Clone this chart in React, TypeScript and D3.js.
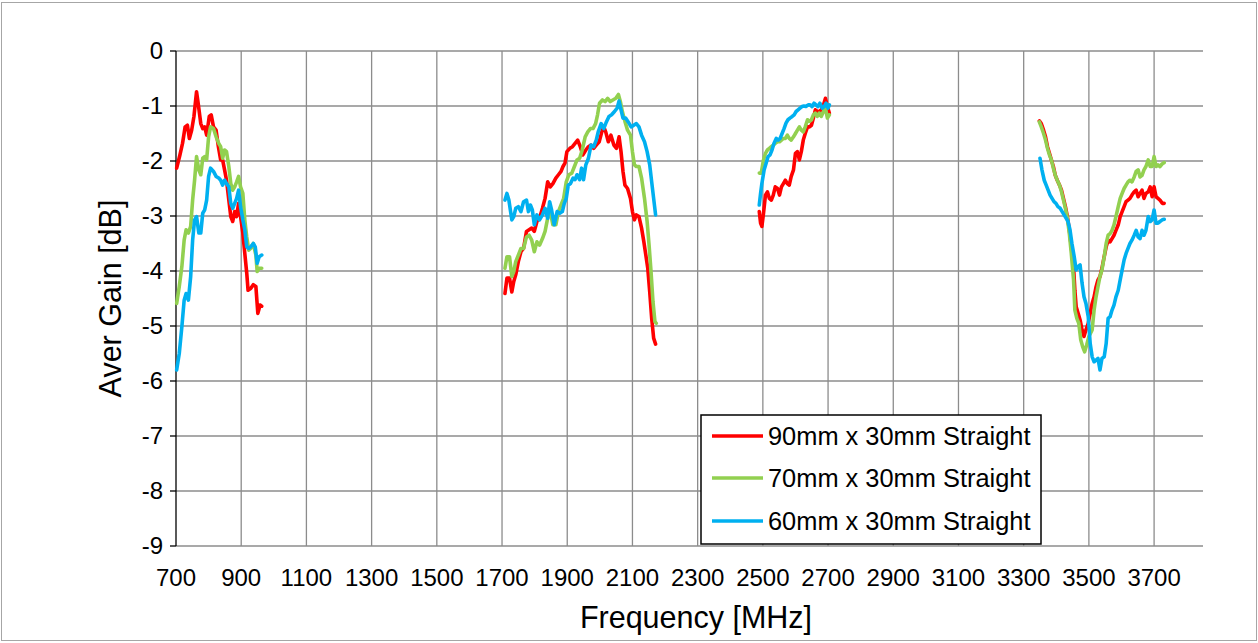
import React from "react";
import * as d3 from "d3";

type Pt = [number, number];

// Tick values
const xTicks: number[] = [700, 900, 1100, 1300, 1500, 1700, 1900, 2100, 2300, 2500, 2700, 2900, 3100, 3300, 3500, 3700];
const yTicks: number[] = [0, -1, -2, -3, -4, -5, -6, -7, -8, -9];

// Series names & colours
const seriesNames: string[] = ["90mm x 30mm Straight", "70mm x 30mm Straight", "60mm x 30mm Straight"];
const seriesColors: string[] = ["#FF0000", "#92D050", "#00B0F0"];

// ---- 90mm x 30mm (red) ----
const red1: Pt[] = [
  [702, -2.13], [712, -1.89], [720, -1.68], [728, -1.38], [735, -1.35], [741, -1.59], [748, -1.44], [755, -1.19],
  [763, -0.74], [768, -0.95], [776, -1.32], [782, -1.41], [788, -1.38], [794, -1.53], [802, -1.19], [808, -1.16],
  [815, -1.38], [823, -1.44], [830, -1.74], [837, -1.98], [843, -1.98], [849, -2.16], [855, -2.35], [862, -2.71],
  [868, -3.01], [874, -3.1], [880, -2.92], [886, -3.01], [892, -2.77], [898, -3.01], [905, -3.31], [911, -3.68],
  [917, -4.04], [921, -4.35], [929, -4.32], [937, -4.25], [945, -4.28], [951, -4.77], [958, -4.62], [963, -4.64],
];
const red2: Pt[] = [
  [1709, -4.41], [1715, -4.13], [1723, -4.13], [1730, -4.38], [1736, -4.19], [1742, -4.07], [1750, -3.83], [1758, -3.65],
  [1766, -3.59], [1775, -3.28], [1783, -3.25], [1791, -3.22], [1799, -3.28], [1807, -3.1], [1815, -3.04], [1824, -2.86],
  [1832, -2.68], [1840, -2.38], [1848, -2.47], [1856, -2.41], [1865, -2.31], [1873, -2.25], [1881, -2.19], [1887, -2.1],
  [1893, -2.04], [1899, -1.83], [1908, -1.77], [1916, -1.74], [1924, -1.68], [1932, -1.62], [1940, -1.74], [1948, -1.89],
  [1957, -1.8], [1965, -1.74], [1973, -1.71], [1981, -1.77], [1989, -1.71], [1998, -1.65], [2006, -1.47], [2012, -1.38],
  [2018, -1.47], [2026, -1.65], [2034, -1.53], [2043, -1.71], [2051, -1.77], [2059, -1.56], [2065, -1.83], [2071, -2.19],
  [2077, -2.44], [2085, -2.5], [2094, -2.68], [2100, -2.92], [2106, -3.07], [2112, -2.98], [2120, -3.01], [2128, -3.22],
  [2135, -3.47], [2141, -3.71], [2147, -3.95], [2153, -4.38], [2159, -4.86], [2165, -5.22], [2171, -5.33],
];
const red3: Pt[] = [
  [2489, -2.92], [2493, -3.13], [2497, -3.19], [2502, -2.95], [2508, -2.62], [2514, -2.56], [2520, -2.68], [2526, -2.71],
  [2532, -2.62], [2538, -2.47], [2545, -2.5], [2551, -2.62], [2557, -2.47], [2563, -2.41], [2569, -2.35], [2575, -2.41],
  [2581, -2.44], [2587, -2.28], [2594, -2.16], [2600, -1.86], [2606, -1.83], [2612, -1.98], [2618, -1.83], [2624, -1.62],
  [2630, -1.5], [2637, -1.38], [2643, -1.38], [2649, -1.35], [2655, -1.22], [2661, -1.07], [2667, -1.1], [2673, -1.1],
  [2679, -1.07], [2686, -0.98], [2692, -0.86], [2698, -1.01], [2704, -1.13],
];
const red4: Pt[] = [
  [3348, -1.27], [3354, -1.32], [3361, -1.44], [3367, -1.56], [3373, -1.74], [3379, -1.86], [3385, -1.98], [3391, -2.1],
  [3397, -2.26], [3403, -2.35], [3410, -2.44], [3416, -2.53], [3422, -2.68], [3428, -2.83], [3434, -3.01], [3440, -3.25],
  [3446, -3.56], [3453, -3.92], [3457, -4.35], [3461, -4.65], [3467, -4.77], [3473, -4.89], [3479, -5.07], [3485, -5.19],
  [3491, -5.07], [3498, -4.95], [3504, -4.77], [3510, -4.59], [3516, -4.47], [3522, -4.29], [3528, -4.16], [3534, -4.1],
  [3540, -3.95], [3547, -3.74], [3553, -3.56], [3559, -3.44], [3565, -3.47], [3571, -3.41], [3577, -3.35], [3583, -3.26],
  [3590, -3.16], [3596, -3.01], [3602, -2.92], [3608, -2.83], [3614, -2.74], [3620, -2.71], [3626, -2.68], [3632, -2.62],
  [3639, -2.56], [3645, -2.53], [3651, -2.65], [3657, -2.59], [3663, -2.53], [3669, -2.68], [3675, -2.59], [3682, -2.56],
  [3688, -2.47], [3694, -2.65], [3700, -2.47], [3706, -2.65], [3712, -2.68], [3718, -2.71], [3725, -2.77], [3731, -2.77],
];

// ---- 70mm x 30mm (green) ----
const green1: Pt[] = [
  [702, -4.59], [710, -4.28], [718, -3.92], [725, -3.44], [731, -3.25], [738, -3.31], [745, -3.19], [751, -2.71],
  [757, -2.35], [763, -1.92], [770, -2.16], [776, -2.25], [782, -1.95], [788, -1.92], [794, -1.98], [800, -1.56],
  [806, -1.38], [815, -1.41], [823, -1.56], [831, -1.68], [837, -1.74], [843, -1.95], [849, -1.8], [855, -1.83],
  [862, -2.1], [868, -2.41], [874, -2.53], [880, -2.47], [886, -2.38], [892, -2.28], [898, -2.47], [905, -2.59],
  [911, -3.07], [917, -3.38], [923, -3.62], [929, -3.59], [937, -3.5], [945, -3.71], [949, -4.01], [955, -3.95],
  [963, -3.95],
];
const green2: Pt[] = [
  [1709, -3.95], [1715, -3.74], [1723, -3.74], [1730, -4.1], [1736, -4.01], [1742, -3.83], [1750, -3.71], [1758, -3.59],
  [1766, -3.59], [1775, -3.38], [1783, -3.35], [1791, -3.44], [1799, -3.65], [1807, -3.47], [1815, -3.53], [1824, -3.41],
  [1832, -3.28], [1840, -3.04], [1848, -2.92], [1856, -3.16], [1865, -3.16], [1873, -2.92], [1881, -2.8], [1889, -2.68],
  [1897, -2.38], [1905, -2.25], [1914, -2.22], [1922, -2.1], [1930, -1.98], [1938, -1.95], [1946, -1.8], [1955, -1.56],
  [1963, -1.47], [1971, -1.41], [1979, -1.41], [1987, -1.32], [1993, -1.16], [1999, -0.95], [2008, -0.89], [2016, -0.92],
  [2024, -0.86], [2032, -0.92], [2040, -0.89], [2049, -0.86], [2057, -0.79], [2063, -0.92], [2069, -1.1], [2077, -1.28],
  [2085, -1.44], [2094, -1.53], [2100, -1.83], [2106, -2.07], [2112, -2.1], [2120, -2.1], [2128, -2.31], [2137, -2.68],
  [2145, -3.1], [2151, -3.53], [2157, -4.01], [2163, -4.56], [2169, -4.92], [2173, -4.95],
];
const green3: Pt[] = [
  [2489, -2.22], [2495, -2.22], [2502, -1.98], [2508, -1.86], [2514, -1.8], [2520, -1.77], [2526, -1.74], [2532, -1.71],
  [2538, -1.68], [2545, -1.65], [2551, -1.65], [2557, -1.62], [2563, -1.59], [2569, -1.59], [2575, -1.53], [2581, -1.59],
  [2587, -1.62], [2594, -1.56], [2600, -1.5], [2606, -1.44], [2612, -1.38], [2618, -1.44], [2624, -1.47], [2630, -1.38],
  [2637, -1.25], [2643, -1.28], [2649, -1.25], [2655, -1.16], [2661, -1.13], [2667, -1.19], [2673, -1.13], [2679, -1.19],
  [2686, -1.1], [2692, -1.04], [2698, -1.22], [2704, -1.16],
];
const green4: Pt[] = [
  [3348, -1.29], [3354, -1.38], [3361, -1.5], [3367, -1.62], [3373, -1.77], [3379, -1.89], [3385, -1.98], [3391, -2.13],
  [3397, -2.26], [3403, -2.35], [3410, -2.44], [3416, -2.56], [3422, -2.71], [3428, -2.86], [3434, -3.04], [3440, -3.32],
  [3446, -3.68], [3453, -4.16], [3457, -4.71], [3463, -4.86], [3469, -4.95], [3475, -5.25], [3481, -5.38], [3487, -5.47],
  [3493, -5.35], [3500, -5.19], [3510, -5.07], [3516, -4.71], [3522, -4.47], [3528, -4.28], [3534, -4.1], [3540, -3.98],
  [3547, -3.74], [3553, -3.5], [3559, -3.35], [3565, -3.32], [3571, -3.26], [3577, -3.16], [3583, -3.01], [3590, -2.83],
  [3596, -2.68], [3602, -2.59], [3608, -2.5], [3614, -2.44], [3620, -2.38], [3626, -2.35], [3632, -2.38], [3639, -2.29],
  [3645, -2.19], [3651, -2.16], [3657, -2.29], [3663, -2.26], [3669, -2.16], [3675, -2.1], [3682, -1.98], [3688, -2.1],
  [3694, -2.1], [3700, -1.92], [3706, -2.1], [3712, -2.07], [3718, -2.1], [3725, -2.05], [3731, -2.03],
];

// ---- 60mm x 30mm (blue) ----
const blue1: Pt[] = [
  [702, -5.8], [710, -5.5], [718, -5.01], [725, -4.53], [731, -4.41], [738, -4.53], [745, -4.1], [751, -3.44],
  [757, -3.07], [763, -3.01], [770, -3.31], [776, -3.31], [782, -2.95], [788, -2.89], [794, -2.71], [800, -2.28],
  [806, -2.13], [815, -2.19], [823, -2.28], [831, -2.31], [837, -2.35], [843, -2.44], [849, -2.35], [855, -2.41],
  [862, -2.47], [868, -2.77], [874, -2.86], [880, -2.77], [886, -2.68], [892, -2.53], [898, -2.83], [905, -3.07],
  [911, -3.25], [917, -3.56], [923, -3.59], [929, -3.56], [937, -3.5], [943, -3.56], [949, -3.86], [955, -3.74],
  [963, -3.71],
];
const blue2: Pt[] = [
  [1709, -2.71], [1715, -2.59], [1721, -2.71], [1730, -3.07], [1736, -3.01], [1742, -2.86], [1750, -2.83], [1758, -2.92],
  [1766, -2.74], [1775, -2.71], [1781, -2.92], [1787, -2.8], [1793, -2.89], [1799, -3.16], [1807, -2.98], [1815, -3.07],
  [1824, -2.98], [1832, -2.86], [1840, -3.04], [1846, -2.74], [1852, -2.89], [1860, -3.16], [1869, -2.92], [1877, -2.95],
  [1885, -2.92], [1891, -2.77], [1897, -2.68], [1903, -2.44], [1910, -2.41], [1918, -2.31], [1924, -2.34], [1930, -2.25],
  [1938, -2.34], [1944, -2.13], [1950, -2.34], [1957, -2.07], [1965, -1.95], [1973, -1.71], [1981, -1.74], [1989, -1.62],
  [1995, -1.47], [2004, -1.32], [2012, -1.41], [2020, -1.29], [2028, -1.19], [2036, -1.16], [2045, -1.1], [2053, -1.04],
  [2059, -0.91], [2065, -1.07], [2071, -1.22], [2079, -1.22], [2087, -1.29], [2096, -1.38], [2104, -1.35], [2112, -1.32],
  [2120, -1.38], [2128, -1.53], [2137, -1.65], [2145, -1.83], [2153, -2.07], [2159, -2.38], [2165, -2.68], [2171, -2.98],
];
const blue3: Pt[] = [
  [2489, -2.8], [2493, -2.59], [2497, -2.41], [2504, -2.16], [2510, -2.04], [2516, -1.92], [2522, -1.89], [2528, -1.8],
  [2534, -1.68], [2541, -1.59], [2547, -1.62], [2553, -1.59], [2559, -1.5], [2565, -1.41], [2571, -1.31], [2577, -1.25],
  [2583, -1.22], [2590, -1.19], [2596, -1.16], [2602, -1.1], [2608, -1.07], [2614, -1.04], [2620, -1.01], [2626, -1.0],
  [2632, -1.01], [2639, -0.98], [2645, -0.98], [2651, -1.01], [2657, -0.95], [2663, -0.98], [2669, -1.01], [2675, -0.95],
  [2682, -1.04], [2688, -1.01], [2694, -0.95], [2700, -1.04], [2704, -0.98],
];
const blue4: Pt[] = [
  [3350, -1.95], [3356, -2.16], [3363, -2.35], [3369, -2.44], [3375, -2.53], [3381, -2.62], [3387, -2.68], [3393, -2.74],
  [3399, -2.77], [3405, -2.83], [3412, -2.86], [3418, -2.92], [3424, -2.98], [3430, -3.04], [3436, -3.1], [3442, -3.25],
  [3448, -3.5], [3455, -3.74], [3461, -3.98], [3467, -3.92], [3473, -3.89], [3479, -4.22], [3485, -4.47], [3491, -4.59],
  [3498, -4.83], [3504, -5.32], [3510, -5.56], [3516, -5.65], [3522, -5.62], [3528, -5.59], [3534, -5.8], [3540, -5.59],
  [3547, -5.56], [3553, -5.32], [3559, -4.86], [3565, -4.83], [3571, -4.71], [3577, -4.62], [3583, -4.47], [3590, -4.35],
  [3596, -4.16], [3602, -3.98], [3608, -3.8], [3614, -3.68], [3620, -3.59], [3626, -3.5], [3632, -3.44], [3639, -3.35],
  [3645, -3.26], [3651, -3.38], [3657, -3.41], [3663, -3.26], [3669, -3.35], [3675, -3.26], [3682, -3.01], [3688, -3.1],
  [3694, -3.07], [3700, -2.89], [3706, -3.13], [3712, -3.13], [3718, -3.1], [3725, -3.07], [3731, -3.06],
];

const redBands: Pt[][] = [red1, red2, red3, red4];
const greenBands: Pt[][] = [green1, green2, green3, green4];
const blueBands: Pt[][] = [blue1, blue2, blue3, blue4];

const W = 1258;
const H = 643;
const FONT = "Arial, 'Liberation Sans', Helvetica, sans-serif";

export default function App() {
  const plotL = 176, plotR = 1203, plotT = 51, plotB = 546;
  const x = d3.scaleLinear().domain([700, 3850]).range([plotL, plotR]);
  const y = d3.scaleLinear().domain([-9, 0]).range([plotB, plotT]);
  const line = d3.line<Pt>().x((d) => x(d[0])).y((d) => y(d[1]));

  const series = [
    { bands: redBands, color: seriesColors[0] },
    { bands: greenBands, color: seriesColors[1] },
    { bands: blueBands, color: seriesColors[2] },
  ];

  const legendX = 701, legendY = 415, legendW = 340, legendH = 129;
  const legendRows = [436, 478, 521];

  return (
    <svg width={W} height={H} style={{ position: "absolute", left: 0, top: 0, background: "#fff" }} fontFamily={FONT}>
      <rect x={1.5} y={2.5} width={1255} height={638} fill="#fff" stroke="#a6a6a6" strokeWidth={1} />
      {yTicks.map((t) => (
        <line key={"hg" + t} x1={plotL} x2={plotR} y1={y(t)} y2={y(t)} stroke="#8c8c8c" strokeWidth={1.3} />
      ))}
      {xTicks.filter((t) => t !== 700).map((t) => (
        <line key={"vg" + t} x1={x(t)} x2={x(t)} y1={plotT} y2={plotB} stroke="#8c8c8c" strokeWidth={1.3} />
      ))}
      <line x1={plotL} x2={plotL} y1={plotT} y2={plotB} stroke="#000" strokeWidth={1.3} />
      {yTicks.map((t) => (
        <line key={"yt" + t} x1={plotL - 6} x2={plotL} y1={y(t)} y2={y(t)} stroke="#000" strokeWidth={1.3} />
      ))}
      {yTicks.map((t) => (
        <text key={"yl" + t} x={163} y={y(t)} dy="0.35em" textAnchor="end" fontSize={24} fill="#000">
          {t}
        </text>
      ))}
      {xTicks.map((t) => (
        <text key={"xl" + t} x={x(t)} y={578} dy="0.35em" textAnchor="middle" fontSize={24} fill="#000">
          {t}
        </text>
      ))}
      {series.map((s, i) =>
        s.bands.map((b, j) => (
          <path key={`s${i}-${j}`} d={line(b) || ""} fill="none" stroke={s.color} strokeWidth={3.6} strokeLinejoin="round" strokeLinecap="round" />
        ))
      )}
      <text x={696} y={617} dy="0.35em" textAnchor="middle" fontSize={30.5} fill="#000">
        Frequency [MHz]
      </text>
      <text transform={`translate(110,${(plotT + plotB) / 2})) rotate(-90)`.replace("))", ")")} dy="0.35em" textAnchor="middle" fontSize={30.5} fill="#000">
        Aver Gain [dB]
      </text>
      <rect x={legendX} y={legendY} width={legendW} height={legendH} fill="#fff" stroke="#000" strokeWidth={1.5} />
      {seriesNames.map((n, i) => (
        <g key={"lg" + i}>
          <line x1={712} x2={763} y1={legendRows[i]} y2={legendRows[i]} stroke={seriesColors[i]} strokeWidth={3.6} />
          <text x={768} y={legendRows[i]} dy="0.35em" fontSize={25.4} fill="#000">
            {n}
          </text>
        </g>
      ))}
    </svg>
  );
}
